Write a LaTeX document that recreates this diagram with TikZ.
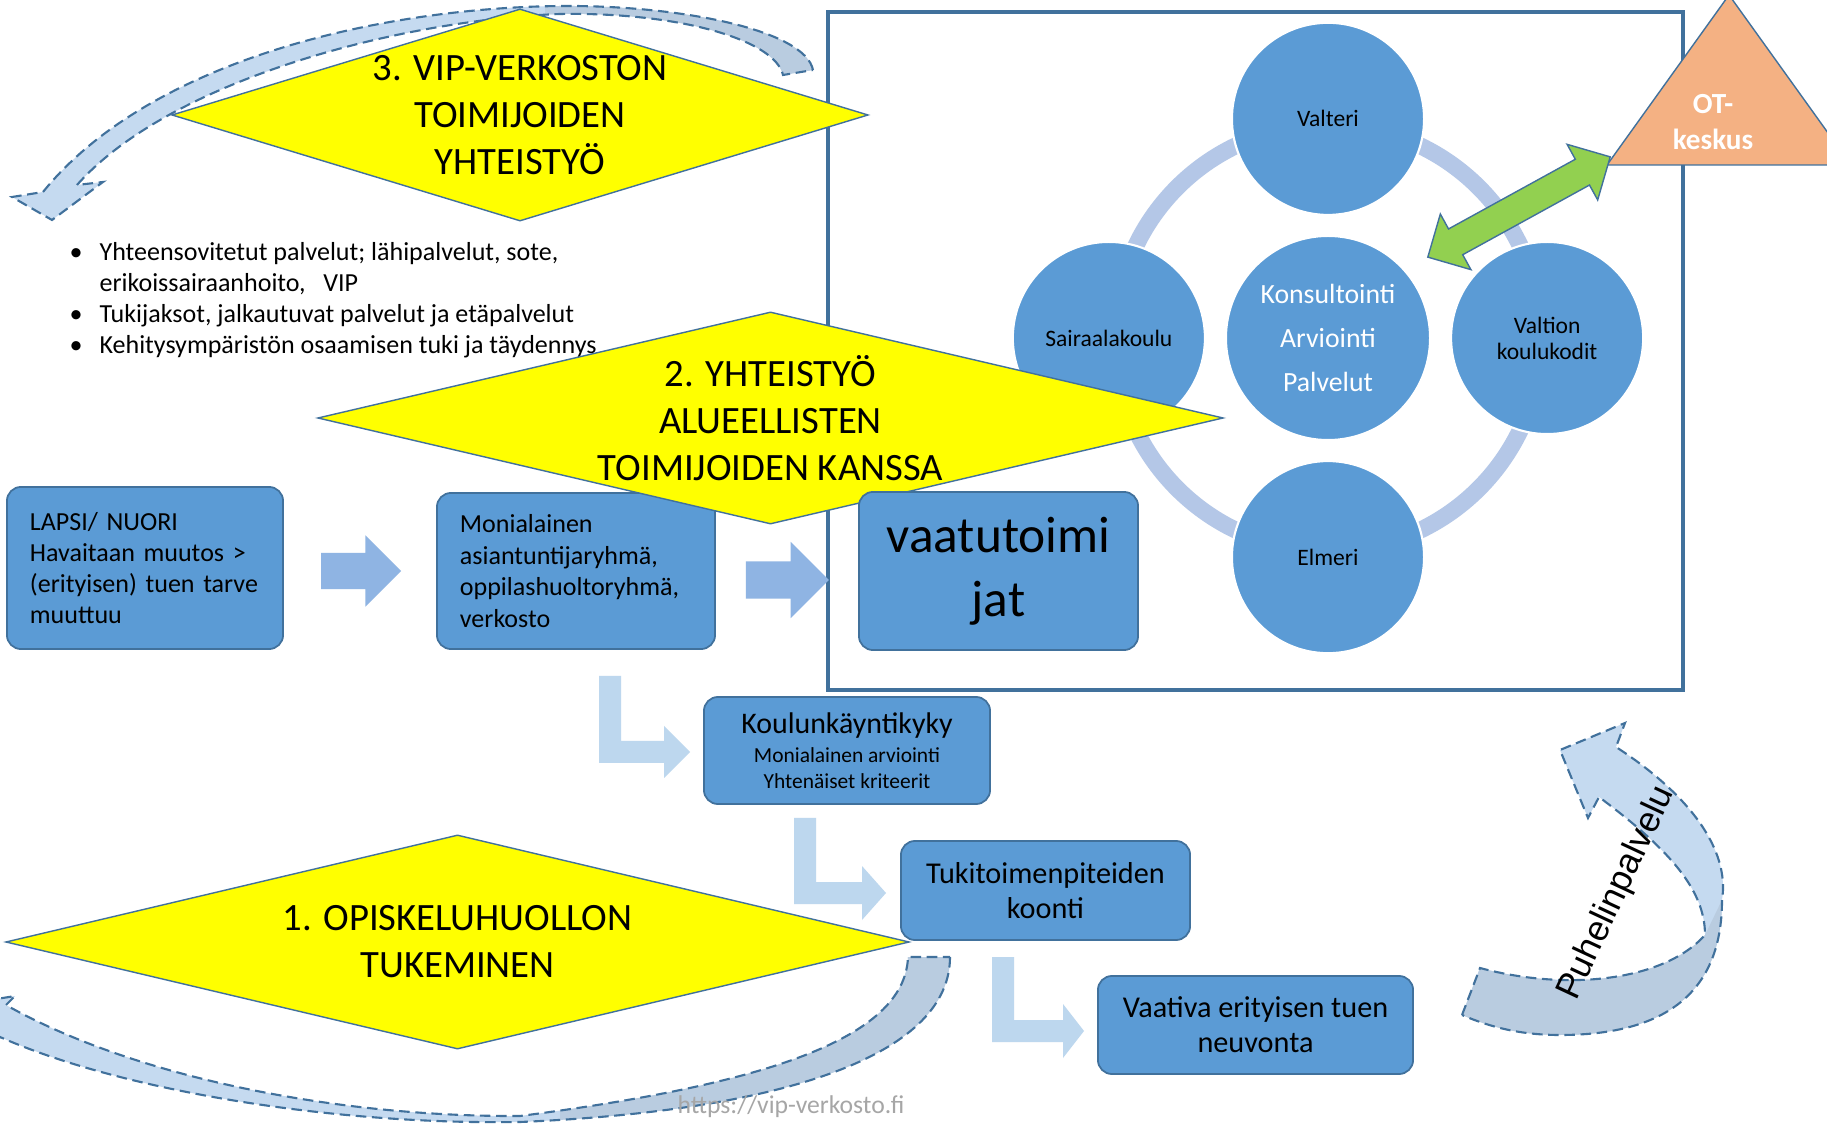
\documentclass[tikz,border=0pt]{standalone}
\usepackage{fontspec}
\setmainfont{Carlito}
\newfontfamily\arialfont{Liberation Sans}
\usepackage{tikz}
\usetikzlibrary{shapes.geometric, shapes.arrows}

\definecolor{boxblue}{HTML}{5B9BD5}
\definecolor{lineblue}{HTML}{41719C}
\definecolor{ringblue}{HTML}{B4C7E7}
\definecolor{arrowblue}{HTML}{8FB4E3}
\definecolor{bentblue}{HTML}{BDD7EE}
\definecolor{curvelight}{HTML}{C5DAF0}
\definecolor{curvegrey}{HTML}{B9CCE0}
\definecolor{otorange}{HTML}{F4B183}
\definecolor{greenarrow}{HTML}{92D050}
\definecolor{urlgrey}{HTML}{A6A6A6}
\definecolor{phaseyellow}{HTML}{FFFF00}

\tikzstyle{bluebox} = [rectangle, rounded corners=4pt, draw=lineblue, fill=boxblue, line width=0.5pt, align=center]
\tikzstyle{phase} = [diamond, draw=lineblue, fill=phaseyellow, line width=0.4pt, inner sep=0pt]
\tikzstyle{phasetext} = [align=center, font=\fontsize{11}{13.4}\selectfont]
\tikzstyle{member} = [circle, draw=white, line width=0.6pt, fill=boxblue, minimum size=1.92cm, inner sep=0pt, align=center, font=\fontsize{6.7}{7.4}\selectfont]
\tikzstyle{blockarrow} = [single arrow, single arrow tip angle=90, fill=arrowblue, inner xsep=0pt]
\tikzstyle{bentarrow} = [fill=bentblue]
\tikzstyle{curvearrow} = [draw=lineblue, line width=0.6pt, dash pattern=on 3pt off 1.6pt]

% outlines of the three curved arrows
\newcommand{\topcurve}{(813,70) .. controls (805,30) and (680,5) .. (560,6) .. controls (380,8) and (150,60) .. (43,192) -- (12,197) -- (52,220) -- (103,182) -- (77,185) .. controls (170,80) and (400,20) .. (560,14) .. controls (680,12) and (775,40) .. (783,75) -- cycle}
\newcommand{\bottomcurve}{(950,957) .. controls (950,1050) and (800,1110) .. (520,1122) .. controls (330,1125) and (120,1090) .. (0,1037) -- (-8,1048) -- (-40,1005) -- (15,996) -- (6,1005) .. controls (130,1075) and (330,1117) .. (520,1116) .. controls (760,1085) and (905,1040) .. (908,957) -- cycle}
\newcommand{\phonecurve}{(1462,1015) -- (1480,968) .. controls (1570,992) and (1665,980) .. (1705,935) .. controls (1705,890) and (1670,850) .. (1599,797) -- (1588,818) -- (1560,750) -- (1625,723) -- (1616,747) .. controls (1690,795) and (1730,850) .. (1722,900) .. controls (1722,980) and (1680,1035) .. (1560,1035) .. controls (1520,1035) and (1490,1027) .. (1462,1015) -- cycle}

\begin{document}
\begin{tikzpicture}[x=0.01cm, y=-0.01cm, node distance=2.19cm]
\useasboundingbox (0,0) rectangle (1827,1125);
\fill[white] (0,0) rectangle (1827,1125);

% curved arrow round phase 3
\fill[curvelight] \topcurve;
\begin{scope}
\clip (545,-10) rectangle (840,120);
\fill[curvegrey] \topcurve;
\end{scope}
\draw[curvearrow] \topcurve;

% network frame
\node (network) [draw=lineblue, line width=1.1pt, minimum width=8.55cm, minimum height=6.78cm, inner sep=0pt] at (1255.5,351) {};

% cycle of actors
\coordinate (hub) at (1328,338);
\node (ring) [circle, draw=ringblue, line width=4.8pt, minimum size=4.26cm, inner sep=0pt] at (hub) {};
\node (konsult) [member, minimum size=2.04cm, text=white, font=\fontsize{7.9}{12.5}\selectfont] at (hub) {Konsultointi\\Arviointi\\Palvelut};
\node (valteri) [member, above of=konsult] {Valteri};
\node (sairaala) [member, left of=konsult] {Sairaalakoulu};
\node (valtion) [member, right of=konsult] {Valtion\\koulukodit};
\node (elmeri) [member, below of=konsult] {Elmeri};

% OT-keskus
\draw[fill=otorange, draw=lineblue, line width=0.4pt] (1607,165) -- (1729,-5) -- (1851,165) -- cycle;
\node (ot) [text=white, align=center, font=\bfseries\fontsize{8.3}{10}\selectfont] at (1713,122) {OT-\\keskus};
\node (link) [double arrow, double arrow tip angle=90, double arrow head extend=0.17cm, inner xsep=0pt, inner ysep=0.14cm, minimum height=2.08cm, fill=greenarrow, draw=lineblue, line width=0.4pt, rotate=28.8] at (1519,207) {};

% phase 3 and its list
\node (phase3) [phase, minimum width=6.96cm, minimum height=2.12cm] at (520,115) {};
\node (phase3txt) [phasetext] at (phase3) {3. VIP-VERKOSTON\\TOIMIJOIDEN\\YHTEISTYÖ};
\node (bullets) [anchor=north west, align=left, inner sep=0pt, font=\fontsize{7.4}{8.8}\selectfont] at (69,242) {\makebox[8.5pt][l]{\textbullet}Yhteensovitetut palvelut; lähipalvelut, sote,\\\hspace*{8.5pt}erikoissairaanhoito,\ \ \ VIP\\\makebox[8.5pt][l]{\textbullet}Tukijaksot, jalkautuvat palvelut ja etäpalvelut\\\makebox[8.5pt][l]{\textbullet}Kehitysympäristön osaamisen tuki ja täydennys};

% first row
\node (lapsi) [bluebox, text width=2.3cm, inner xsep=0.23cm, minimum height=1.62cm, align=left, font=\fontsize{7.4}{8.8}\selectfont] at (145,568) {LAPSI/ NUORI\\Havaitaan muutos >\\(erityisen) tuen tarve\\muuttuu};
\node (moniala) [bluebox, text width=2.32cm, inner xsep=0.23cm, minimum height=1.56cm, align=left, font=\fontsize{7.4}{9}\selectfont] at (576,571) {Monialainen\\asiantuntijaryhmä,\\oppilashuoltoryhmä,\\verkosto};
\node (arr1) [blockarrow, minimum height=0.8cm, inner ysep=0.175cm, single arrow head extend=0.175cm] at (352,571) {};
\node (arr2) [blockarrow, minimum height=0.83cm, inner ysep=0.18cm, single arrow head extend=0.195cm] at (778,580) {};

% phase 2
\node (phase2) [phase, minimum width=9.05cm, minimum height=2.12cm] at (770.5,418) {};
\node (phase2txt) [phasetext] at (phase2) {2. YHTEISTYÖ\\ALUEELLISTEN\\TOIMIJOIDEN KANSSA};
\node (vaatu) [bluebox, minimum width=2.79cm, minimum height=1.58cm, font=\fontsize{14.6}{18.2}\selectfont] at (998.5,571) {\raisebox{-1pt}{vaatutoimi}\\\raisebox{-1pt}{jat}};

% steps down
\fill[bentarrow] (599,676) -- (621,676) -- (621,741) -- (664,741) -- (664,726) -- (690,752) -- (664,778) -- (664,763) -- (599,763) -- cycle;
\node (koulu) [bluebox, minimum width=2.86cm, minimum height=1.07cm, font=\fontsize{6.1}{7.4}\selectfont] at (847,750.5) {{\fontsize{8.5}{10}\selectfont Koulunkäyntikyky}\\[0.8pt]Monialainen arviointi\\Yhtenäiset kriteerit};
\fill[bentarrow] (794,818) -- (816,818) -- (816,882) -- (862,882) -- (862,866) -- (886,893) -- (862,920) -- (862,904) -- (794,904) -- cycle;
\node (tuki) [bluebox, minimum width=2.89cm, minimum height=0.99cm, font=\fontsize{8.6}{10}\selectfont] at (1045.5,890.5) {Tukitoimenpiteiden\\koonti};
\fill[bentarrow] (992,957) -- (1014,957) -- (1014,1020) -- (1063,1020) -- (1063,1004) -- (1084,1031) -- (1063,1058) -- (1063,1042) -- (992,1042) -- cycle;
\node (vaativa) [bluebox, minimum width=3.15cm, minimum height=0.98cm, font=\fontsize{8.6}{10}\selectfont] at (1255.5,1025) {Vaativa erityisen tuen\\neuvonta};

% phase 1
\node (phase1) [phase, minimum width=9.03cm, minimum height=2.14cm] at (457.5,942) {};
\node (phase1txt) [phasetext] at (phase1) {1. OPISKELUHUOLLON\\TUKEMINEN};

% curved arrow round phase 1
\fill[curvelight] \bottomcurve;
\begin{scope}
\clip (560,900) rectangle (980,1130);
\fill[curvegrey] \bottomcurve;
\end{scope}
\draw[curvearrow] \bottomcurve;

% phone service arrow
\fill[curvelight] \phonecurve;
\fill[curvegrey] (1462,1015) -- (1480,968) .. controls (1570,992) and (1665,980) .. (1705,935) -- (1722,900) .. controls (1722,980) and (1680,1035) .. (1560,1035) .. controls (1520,1035) and (1490,1027) .. (1462,1015) -- cycle;
\draw[curvearrow] \phonecurve;
\node (puhelin) [rotate=65, font=\arialfont\fontsize{10.1}{12}\selectfont] at (1617,893) {Puhelinpalvelu};

\node (url) [anchor=base, text=urlgrey, font=\fontsize{7.3}{9}\selectfont] at (791,1113) {https://vip-verkosto.fi};
\end{tikzpicture}
\end{document}
